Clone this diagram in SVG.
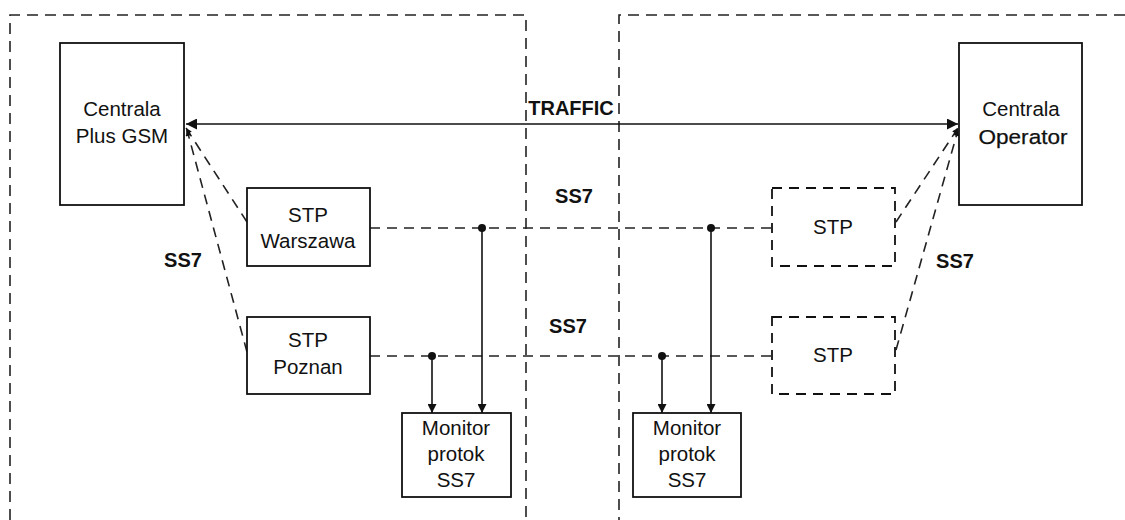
<svg xmlns="http://www.w3.org/2000/svg" width="1125" height="520" viewBox="0 0 1125 520">
<style>
.box{fill:#fff;stroke:#111;stroke-width:1.8}
.dbox{fill:#fff;stroke:#111;stroke-width:1.8;stroke-dasharray:10 7}
.region{fill:none;stroke:#222;stroke-width:1.6;stroke-dasharray:11 7}
.dl{fill:none;stroke:#222;stroke-width:1.6;stroke-dasharray:10 7}
.sl{fill:none;stroke:#111;stroke-width:1.6}
.t{font-family:"Liberation Sans",Arial,sans-serif;font-size:20.5px;fill:#111;text-anchor:middle}
.b{font-family:"Liberation Sans",Arial,sans-serif;font-size:20px;font-weight:bold;fill:#111;text-anchor:middle}
</style>
<defs>
<marker id="ah" viewBox="0 0 10 10" refX="10" refY="5" markerWidth="15" markerHeight="11" markerUnits="userSpaceOnUse" orient="auto-start-reverse">
<path d="M0,0 L10,5 L0,10 z" fill="#111"/>
</marker>
<marker id="am" viewBox="0 0 10 10" refX="10" refY="5" markerWidth="11" markerHeight="9" markerUnits="userSpaceOnUse" orient="auto">
<path d="M0,0 L10,5 L0,10 z" fill="#111"/>
</marker>
<marker id="as" viewBox="0 0 10 10" refX="10" refY="5" markerWidth="8" markerHeight="6" markerUnits="userSpaceOnUse" orient="auto">
<path d="M0,0 L10,5 L0,10 z" fill="#111"/>
</marker>
</defs>

<g id="regions">
<path class="region" d="M10,520 V15 H526 V520"/>
<path class="region" d="M1125,15 H619 V520"/>
</g>

<g id="connectors">
<line class="sl" x1="186" y1="124" x2="958" y2="124" stroke-width="2.2" marker-start="url(#ah)" marker-end="url(#ah)"/>
<path class="dl" d="M247,222 L186,128" marker-end="url(#as)"/>
<path class="dl" d="M247,352 L187,130" marker-end="url(#as)"/>
<path class="dl" d="M896,222 L958,128" marker-end="url(#as)"/>
<path class="dl" d="M896,350 L958,130" marker-end="url(#as)"/>
<line class="dl" x1="370" y1="228" x2="772" y2="228"/>
<line class="dl" x1="370" y1="356" x2="772" y2="356" stroke="#555"/>
<line class="sl" x1="482" y1="228" x2="482" y2="413" marker-end="url(#am)"/>
<line class="sl" x1="432" y1="356" x2="432" y2="413" marker-end="url(#am)"/>
<line class="sl" x1="711" y1="228" x2="711" y2="413" marker-end="url(#am)"/>
<line class="sl" x1="662" y1="356" x2="662" y2="413" marker-end="url(#am)"/>
<circle cx="482" cy="228" r="4" fill="#111"/>
<circle cx="432" cy="356" r="4" fill="#111"/>
<circle cx="711" cy="228" r="4" fill="#111"/>
<circle cx="662" cy="356" r="4" fill="#111"/>
<text class="b" x="571" y="115">TRAFFIC</text>
<text class="b" x="574" y="203">SS7</text>
<text class="b" x="568" y="333">SS7</text>
<text class="b" x="183" y="267">SS7</text>
<text class="b" x="955" y="268">SS7</text>
</g>

<g id="centrala-plus">
<rect class="box" x="60" y="43" width="124" height="162"/>
<text class="t" x="122" y="116">Centrala</text>
<text class="t" x="122" y="143">Plus GSM</text>
</g>

<g id="centrala-operator">
<rect class="box" x="959" y="43" width="123" height="162"/>
<text class="t" x="1021" y="116">Centrala</text>
<text class="t" x="1023" y="144" textLength="89" lengthAdjust="spacingAndGlyphs" font-size="22" stroke="#111" stroke-width="0.25">Operator</text>
</g>

<g id="stp-warszawa">
<rect class="box" x="247" y="188" width="123" height="78"/>
<text class="t" x="308" y="222">STP</text>
<text class="t" x="308" y="248">Warszawa</text>
</g>

<g id="stp-poznan">
<rect class="box" x="247" y="317" width="123" height="77"/>
<text class="t" x="308" y="347">STP</text>
<text class="t" x="308" y="374">Poznan</text>
</g>

<g id="stp-right-1">
<rect class="dbox" x="772" y="188" width="123" height="78"/>
<text class="t" x="833" y="234">STP</text>
</g>

<g id="stp-right-2">
<rect class="dbox" x="772" y="317" width="123" height="77"/>
<text class="t" x="833" y="362">STP</text>
</g>

<g id="monitor-left">
<rect class="box" x="402" y="413" width="109" height="84"/>
<text class="t" x="456" y="435">Monitor</text>
<text class="t" x="456" y="461">protok</text>
<text class="t" x="456" y="487">SS7</text>
</g>

<g id="monitor-right">
<rect class="box" x="633" y="413" width="108" height="84"/>
<text class="t" x="687" y="435">Monitor</text>
<text class="t" x="687" y="461">protok</text>
<text class="t" x="687" y="487">SS7</text>
</g>
</svg>
